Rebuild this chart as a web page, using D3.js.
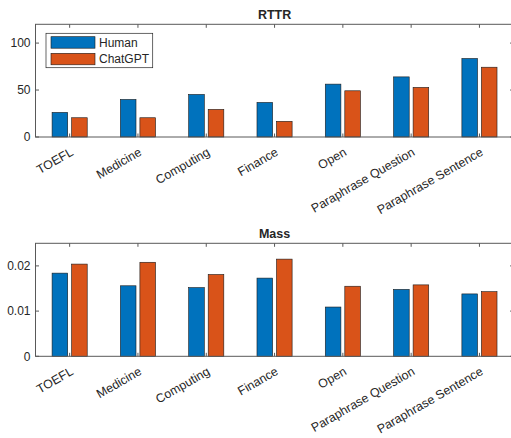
<!DOCTYPE html>
<html>
<head>
<meta charset="utf-8">
<script src="https://cdn.jsdelivr.net/npm/d3@7"></script>
<style>
  body { margin: 0; background: #fff; }
  svg { display: block; }
  text { font-family: "Liberation Sans", Arial, Helvetica, sans-serif; fill: #262626; }
</style>
</head>
<body>
<svg id="chart" width="511" height="438"></svg>
<script>
// ---- data ----
const categories = ["TOEFL", "Medicine", "Computing", "Finance", "Open", "Paraphrase Question", "Paraphrase Sentence"];
const seriesNames = ["Human", "ChatGPT"];
const rttrHuman   = [26.2, 40.0, 45.3, 36.8, 56.3, 64.0, 83.6];
const rttrChatGPT = [20.5, 20.5, 29.4, 16.7, 49.2, 52.8, 74.3];
const massHuman   = [0.0184, 0.0156, 0.0152, 0.0173, 0.0109, 0.0148, 0.0138];
const massChatGPT = [0.0204, 0.0208, 0.0181, 0.0215, 0.0155, 0.0158, 0.0143];
const rttrTicks = [0, 50, 100];
const massTicks = [0, 0.01, 0.02];
const colors = ["#0072BD", "#D95319"];

const svg = d3.select("#chart");

const left = 35.5, right = 513.6;
const x = d3.scaleLinear().domain([0.5, categories.length + 0.5]).range([left, right]);
const groupWidth = Math.min(0.8, 2 / (2 + 1.5));
const barW = groupWidth / 2 * 0.8;
const offsets = [-groupWidth / 4, groupWidth / 4];

function panel(opts) {
  const { top, bottom, yMax, ticks, fmt, series, title, legend } = opts;
  const y = d3.scaleLinear().domain([0, yMax]).range([bottom, top]);
  const g = svg.append("g");

  // bars
  series.forEach((vals, s) => {
    g.selectAll(null).data(vals).enter().append("rect")
      .attr("x", (d, i) => x(i + 1 + offsets[s] - barW / 2))
      .attr("width", (d, i) => x(i + 1 + offsets[s] + barW / 2) - x(i + 1 + offsets[s] - barW / 2))
      .attr("y", d => y(d))
      .attr("height", d => y(0) - y(d))
      .attr("fill", colors[s])
      .attr("stroke", "#1a1a1a")
      .attr("stroke-width", 0.6);
  });

  // box
  const axCol = "#595959";
  g.append("rect").attr("x", left).attr("y", top).attr("width", right - left).attr("height", bottom - top)
    .attr("fill", "none").attr("stroke", axCol).attr("stroke-width", 1);

  // x ticks (bottom & top, inward)
  const tl = 3.5;
  categories.forEach((c, i) => {
    const tx = x(i + 1);
    g.append("line").attr("x1", tx).attr("x2", tx).attr("y1", bottom).attr("y2", bottom - tl).attr("stroke", axCol);
    g.append("line").attr("x1", tx).attr("x2", tx).attr("y1", top).attr("y2", top + tl).attr("stroke", axCol);
    g.append("text")
      .attr("transform", `translate(${tx + 4.5},${bottom + 17.5}) rotate(-30)`)
      .attr("text-anchor", "end")
      .attr("font-size", 12.4)
      .text(c);
  });

  // y ticks (left & right, inward)
  ticks.forEach(t => {
    const ty = y(t);
    g.append("line").attr("x1", left).attr("x2", left + tl).attr("y1", ty).attr("y2", ty).attr("stroke", axCol);
    g.append("line").attr("x1", right).attr("x2", right - tl).attr("y1", ty).attr("y2", ty).attr("stroke", axCol);
    g.append("text").attr("x", left - 5).attr("y", ty + 4.2)
      .attr("text-anchor", "end").attr("font-size", 12).text(fmt(t));
  });

  // title
  g.append("text").attr("x", (left + right) / 2).attr("y", top - 5.5)
    .attr("text-anchor", "middle").attr("font-size", 12.5).attr("font-weight", "bold")
    .attr("fill", "#000").text(title);

  if (legend) {
    const lg = g.append("g");
    lg.append("rect").attr("x", 46).attr("y", 33.3).attr("width", 106.7).attr("height", 34.4)
      .attr("fill", "#fff").attr("stroke", "#262626").attr("stroke-width", 0.7);
    seriesNames.forEach((n, s) => {
      const sy = 36.7 + s * 16.6;
      lg.append("rect").attr("x", 51).attr("y", sy).attr("width", 44).attr("height", 11.5)
        .attr("fill", colors[s]).attr("stroke", "#1a1a1a").attr("stroke-width", 0.6);
      lg.append("text").attr("x", 99).attr("y", sy + 10).attr("font-size", 12).attr("fill", "#000").text(n);
    });
  }
}

panel({ top: 24.3, bottom: 137, yMax: 120, ticks: rttrTicks, fmt: d => String(d),
        series: [rttrHuman, rttrChatGPT], title: "RTTR", legend: true });
panel({ top: 243.3, bottom: 356.3, yMax: 0.025, ticks: massTicks, fmt: d => String(d),
        series: [massHuman, massChatGPT], title: "Mass", legend: false });
</script>
</body>
</html>
